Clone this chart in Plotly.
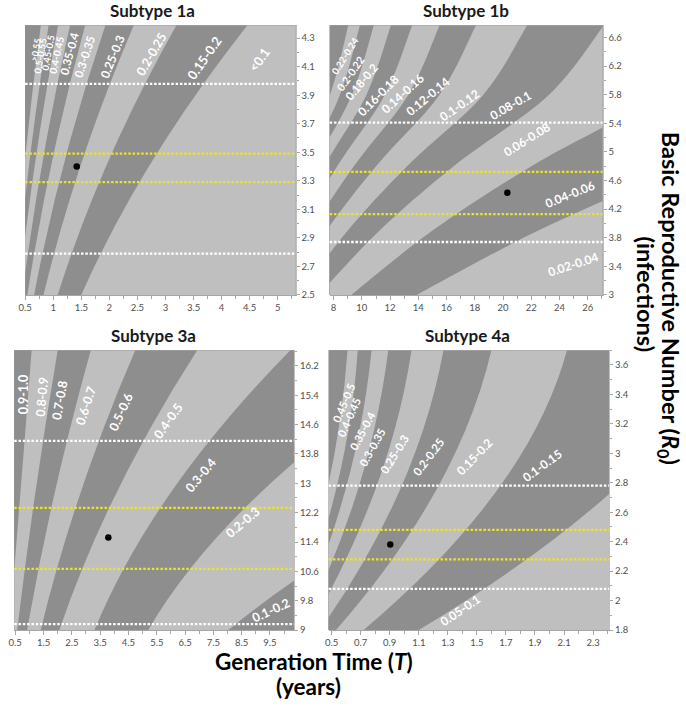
import plotly.graph_objects as go

DARK = "#8e8e8e"
LIGHT = "#bfbfbf"
YELLOW = "#ece42c"
FONT = "Lato"

# ---------------- Subtype 1a ----------------
r_1a = [0.55, 0.50, 0.45, 0.40, 0.35, 0.30, 0.25, 0.20, 0.15]
R0_lv_1a = [2.5, 3.445, 4.39]
T_1a = [[0.278, 0.495, 0.78], [0.324, 0.58, 0.918], [0.38, 0.684, 1.087],
        [0.45, 0.815, 1.30], [0.54, 0.983, 1.569], [0.66, 1.207, 1.93],
        [0.828, 1.52, 2.436], [1.08, 1.99, 3.195], [1.50, 2.773, 4.46]]
lab_1a = [">0.55", "0.5-0.55", "0.45-0.5", "0.4-0.45", "0.35-0.4", "0.3-0.35",
          "0.25-0.3", "0.2-0.25", "0.15-0.2", "<0.1"]
lab_T_1a = [0.69, 0.77, 0.91, 1.06, 1.29, 1.56, 2.06, 2.76, 3.69, 4.66]
lab_R_1a = [4.22, 4.18, 4.20, 4.18, 4.19, 4.17, 4.17, 4.19, 4.16, 4.15]
lab_ang_1a = [-80, -80, -80, -78, -75, -72, -68, -60, -55, -55]
lab_sz_1a = [9, 9.5, 9.5, 10, 11.5, 11.5, 12, 12.5, 13, 13]
white_1a = [3.98, 2.79]
yellow_1a = [3.49, 3.29]
pt_T_1a, pt_R_1a = [1.42], [3.40]

# ---------------- Subtype 1b ----------------
r_1b = [0.24, 0.22, 0.20, 0.18, 0.16, 0.14, 0.12, 0.10, 0.08, 0.06, 0.04]
R0_lv_1b = [3.0, 3.9, 4.8, 5.8, 6.77]
T_1b = [[2.31, 3.75, 5.5, 7.75, 9.04], [2.52, 4.09, 6.0, 8.45, 9.86],
        [2.78, 4.5, 6.6, 9.3, 10.85], [3.08, 5.0, 7.33, 10.33, 12.06],
        [3.47, 5.63, 8.25, 11.63, 13.56], [3.96, 6.43, 9.43, 13.29, 15.5],
        [4.63, 7.5, 11.0, 15.5, 18.08], [5.55, 9.0, 13.2, 18.6, 21.7],
        [6.94, 11.25, 16.5, 23.25, 27.13], [9.25, 15.0, 22.0, 31.0, 36.17],
        [13.88, 22.5, 33.0, 46.5, 54.25]]
lab_1b = ["0.22-0.24", "0.2-0.22", "0.18-0.2", "0.16-0.18", "0.14-0.16", "0.12-0.14",
          "0.1-0.12", "0.08-0.1", "0.06-0.08", "0.04-0.06", "0.02-0.04"]
lab_T_1b = [8.82, 9.17, 9.99, 11.15, 12.9, 14.66, 16.88, 20.5, 21.67, 24.7, 24.94]
lab_R_1b = [6.35, 6.09, 5.98, 5.79, 5.81, 5.77, 5.65, 5.65, 5.17, 4.40, 3.43]
lab_ang_1b = [-58, -55, -50, -45, -42, -40, -35, -30, -32, -22, -18]
lab_sz_1b = [9.5, 10.5, 11.5, 12, 12, 12, 12, 12, 12, 12, 12]
white_1b = [5.41, 3.74]
yellow_1b = [4.72, 4.13]
pt_T_1b, pt_R_1b = [20.3], [4.43]

# ---------------- Subtype 3a ----------------
r_3a = [0.9, 0.8, 0.7, 0.6, 0.5, 0.4, 0.3, 0.2]
R0_lv_3a = [9.0, 12.8, 16.63]
T_3a = [[0.29, 0.69, 1.08], [0.57, 1.22, 2.00], [0.92, 1.91, 3.17], [1.40, 2.83, 4.74],
        [2.06, 4.11, 6.93], [3.30, 6.04, 10.22], [5.20, 9.24, 15.70], [8.03, 15.66, 26.67]]
lab_3a = ["0.9-1.0", "0.8-0.9", "0.7-0.8", "0.6-0.7", "0.5-0.6", "0.4-0.5",
          "0.3-0.4", "0.2-0.3", "0.1-0.2"]
lab_T_3a = [0.79, 1.43, 2.07, 3.0, 4.22, 5.91, 7.08, 8.53, 9.52]
lab_R_3a = [15.44, 15.35, 15.26, 15.12, 14.94, 14.72, 13.23, 11.93, 9.54]
lab_ang_3a = [-90, -85, -80, -72, -65, -55, -50, -40, -25]
lab_sz_3a = [12.5, 12.5, 12.5, 12.5, 12.5, 12.5, 12.5, 12.5, 12.5]
white_3a = [14.16, 9.16]
yellow_3a = [12.33, 10.67]
pt_T_3a, pt_R_3a = [3.79], [11.52]

# ---------------- Subtype 4a ----------------
r_4a = [0.50, 0.45, 0.40, 0.35, 0.30, 0.25, 0.20, 0.15, 0.10]
R0_lv_4a = [1.8, 2.75, 3.7]
T_4a = [[0.19, 0.47, 0.61], [0.21, 0.53, 0.68], [0.245, 0.595, 0.775], [0.29, 0.68, 0.89],
        [0.34, 0.80, 1.05], [0.42, 0.97, 1.27], [0.53, 1.22, 1.60], [0.72, 1.64, 2.12],
        [1.10, 2.44, 3.25]]
lab_4a = ["0.45-0.5", "0.4-0.45", "0.35-0.4", "0.3-0.35", "0.25-0.3", "0.2-0.25",
          "0.15-0.2", "0.1-0.15", "0.05-0.1"]
lab_T_4a = [0.579, 0.62, 0.711, 0.779, 0.931, 1.169, 1.486, 1.951, 1.384]
lab_R_4a = [3.341, 3.24, 3.156, 3.037, 2.992, 2.977, 2.977, 2.914, 1.93]
lab_ang_4a = [-67, -66, -62, -61, -58, -53, -46, -36, -34]
lab_sz_4a = [11, 11, 11, 11, 11.5, 11.5, 12, 12, 12]
white_4a = [2.78, 2.08]
yellow_4a = [2.48, 2.28]
pt_T_4a, pt_R_4a = [0.904], [2.38]

panels = [
    dict(title="Subtype 1a", r=r_1a, lv=R0_lv_1a, T=T_1a,
         lab=lab_1a, lx=lab_T_1a, ly=lab_R_1a, la=lab_ang_1a, ls=lab_sz_1a,
         white=white_1a, yellow=yellow_1a, px=pt_T_1a, py=pt_R_1a,
         xdom=[18.3, 291.7], ydom=[25.5, 297.0], xr=[0.5, 5.32], yr=[2.5, 4.39],
         xt=(0.5, 0.5, 0.25), yt=(2.5, 0.2, 0.1), first=DARK, tx=147),
    dict(title="Subtype 1b", r=r_1b, lv=R0_lv_1b, T=T_1b,
         lab=lab_1b, lx=lab_T_1b, ly=lab_R_1b, la=lab_ang_1b, ls=lab_sz_1b,
         white=white_1b, yellow=yellow_1b, px=pt_T_1b, py=pt_R_1b,
         xdom=[326.0, 601.7], ydom=[25.5, 297.0], xr=[7.72, 27.04], yr=[3.0, 6.77],
         xt=(8, 2, 1), yt=(3, 0.4, 0.2), first=DARK, tx=464),
    dict(title="Subtype 3a", r=r_3a, lv=R0_lv_3a, T=T_3a,
         lab=lab_3a, lx=lab_T_3a, ly=lab_R_3a, la=lab_ang_3a, ls=lab_sz_3a,
         white=white_3a, yellow=yellow_3a, px=pt_T_3a, py=pt_R_3a,
         xdom=[7.3, 290.0], ydom=[352.7, 634.5], xr=[0.465, 10.35], yr=[9.0, 16.63],
         xt=(0.5, 1, 0.5), yt=(9, 0.8, 0.4), first=DARK, tx=148),
    dict(title="Subtype 4a", r=r_4a, lv=R0_lv_4a, T=T_4a,
         lab=lab_4a, lx=lab_T_4a, ly=lab_R_4a, la=lab_ang_4a, ls=lab_sz_4a,
         white=white_4a, yellow=yellow_4a, px=pt_T_4a, py=pt_R_4a,
         xdom=[325.0, 608.3], ydom=[352.7, 634.5], xr=[0.48, 2.41], yr=[1.8, 3.7],
         xt=(0.5, 0.2, 0.1), yt=(1.8, 0.2, 0.1), first=DARK, tx=465),
]


def curve_path(pts):
    """Smooth SVG path through the boundary points (quadratic for 3, Catmull-Rom otherwise)."""
    if len(pts) == 3:
        a, m, b = pts
        cx = 2 * m[0] - (a[0] + b[0]) / 2
        cy = 2 * m[1] - (a[1] + b[1]) / 2
        return f"M {a[0]},{a[1]} Q {cx},{cy} {b[0]},{b[1]}"
    s = f"M {pts[0][0]},{pts[0][1]}"
    n = len(pts)
    for i in range(n - 1):
        p0 = pts[i - 1] if i > 0 else pts[i]
        p1, p2 = pts[i], pts[i + 1]
        p3 = pts[i + 2] if i + 2 < n else pts[i + 1]
        c1 = (p1[0] + (p2[0] - p0[0]) / 6, p1[1] + (p2[1] - p0[1]) / 6)
        c2 = (p2[0] - (p3[0] - p1[0]) / 6, p2[1] - (p3[1] - p1[1]) / 6)
        s += f" C {c1[0]},{c1[1]} {c2[0]},{c2[1]} {p2[0]},{p2[1]}"
    return s


W, H = 686, 708
fig = go.Figure()
shapes, annotations = [], []
layout_axes = {}

for i, p in enumerate(panels, start=1):
    xs = "" if i == 1 else str(i)
    xref, yref = "x" + xs, "y" + xs
    x0, x1 = p["xr"]
    y0, y1 = p["yr"]
    shapes.append(dict(type="rect", xref=xref + " domain", yref=yref + " domain",
                       x0=0, x1=1, y0=0, y1=1, fillcolor=p["first"], line_width=0,
                       layer="below"))
    col = LIGHT if p["first"] == DARK else DARK
    yb = y0 - (y1 - y0)
    for k in range(len(p["r"])):
        pts = list(zip(p["T"][k], p["lv"]))
        first, last = pts[0], pts[-1]
        xfar = max([x1] + [q[0] for q in pts]) * 1.5 + (x1 - x0)
        path = (curve_path(pts) +
                f" L {xfar},{last[1]} L {xfar},{yb} L {first[0]},{yb} Z")
        shapes.append(dict(type="path", xref=xref, yref=yref, path=path,
                           fillcolor=col, line_width=0, layer="below"))
        col = DARK if col == LIGHT else LIGHT
    for yv in p["white"]:
        shapes.append(dict(type="line", xref=xref + " domain", yref=yref, x0=0, x1=1,
                           y0=yv, y1=yv, line=dict(color="white", width=2.3, dash="2.5px,1.8px")))
    for yv in p["yellow"]:
        shapes.append(dict(type="line", xref=xref + " domain", yref=yref, x0=0, x1=1,
                           y0=yv, y1=yv, line=dict(color=YELLOW, width=2.3, dash="2.5px,1.8px")))
    fig.add_trace(go.Scatter(x=p["px"], y=p["py"], mode="markers", xaxis=xref, yaxis=yref,
                             marker=dict(color="black", size=6.5), showlegend=False,
                             hoverinfo="skip"))
    for t, lx, ly, la, ls in zip(p["lab"], p["lx"], p["ly"], p["la"], p["ls"]):
        annotations.append(dict(text="<b>" + t + "</b>", x=lx, y=ly, xref=xref, yref=yref,
                                showarrow=False, textangle=la,
                                font=dict(family=FONT, size=ls, color="white")))
    dx0, dx1 = p["xdom"]
    dy0, dy1 = p["ydom"]
    tick_font = dict(family=FONT, size=9.5, color="#505050")
    layout_axes["xaxis" + xs] = dict(
        domain=[dx0 / W, dx1 / W], range=[x0, x1], anchor=yref, showgrid=False,
        zeroline=False, tick0=p["xt"][0], dtick=p["xt"][1], ticks="outside", ticklen=4,
        tickcolor="#a6a6a6", showline=True, linecolor="#a6a6a6", linewidth=1,
        tickfont=tick_font,
        minor=dict(ticks="outside", dtick=p["xt"][2], tick0=p["xt"][0], ticklen=3,
                   tickcolor="#a6a6a6", showgrid=False))
    layout_axes["yaxis" + xs] = dict(
        domain=[1 - dy1 / H, 1 - dy0 / H], range=[y0, y1], anchor=xref, side="right",
        showgrid=False, zeroline=False, tick0=p["yt"][0], dtick=p["yt"][1],
        ticks="outside", ticklen=3, tickcolor="#a6a6a6", showline=True,
        linecolor="#bfbfbf", linewidth=1, tickfont=tick_font,
        minor=dict(ticks="outside", dtick=p["yt"][2], tick0=p["yt"][0], ticklen=2,
                   tickcolor="#a6a6a6", showgrid=False))
    annotations.append(dict(text="<b>" + p["title"] + "</b>", x=p["tx"] / W,
                            y=1 - (dy0 - 15) / H, xref="paper", yref="paper",
                            showarrow=False, xanchor="center", yanchor="middle",
                            font=dict(family=FONT, size=17, color="#1a1a1a")))

annotations += [
    dict(text="<b>Generation Time (<i>T</i>)</b>", x=310 / W, y=1 - 666.5 / H, xref="paper",
         yref="paper", showarrow=False, xanchor="center", yanchor="middle",
         font=dict(family=FONT, size=22.5, color="black")),
    dict(text="<b>(years)</b>", x=305 / W, y=1 - 691.5 / H, xref="paper", yref="paper",
         showarrow=False, xanchor="center", yanchor="middle",
         font=dict(family=FONT, size=22.5, color="black")),
    dict(text="<b>Basic Reproductive Number (<i>R</i><sub>0</sub>)</b>", x=669 / W,
         y=1 - 300 / H, xref="paper", yref="paper", showarrow=False, textangle=90,
         xanchor="center", yanchor="middle", font=dict(family=FONT, size=23.5, color="black")),
    dict(text="<b>(infections)</b>", x=646 / W, y=1 - 297 / H, xref="paper", yref="paper",
         showarrow=False, textangle=90, xanchor="center", yanchor="middle",
         font=dict(family=FONT, size=23.5, color="black")),
]

fig.update_layout(width=W, height=H, margin=dict(l=0, r=0, t=0, b=0),
                  paper_bgcolor="white", plot_bgcolor=DARK, showlegend=False,
                  shapes=shapes, annotations=annotations, **layout_axes)
fig.write_html("out.html", config={"displayModeBar": False},
               post_script="document.body.style.margin='0px';")
